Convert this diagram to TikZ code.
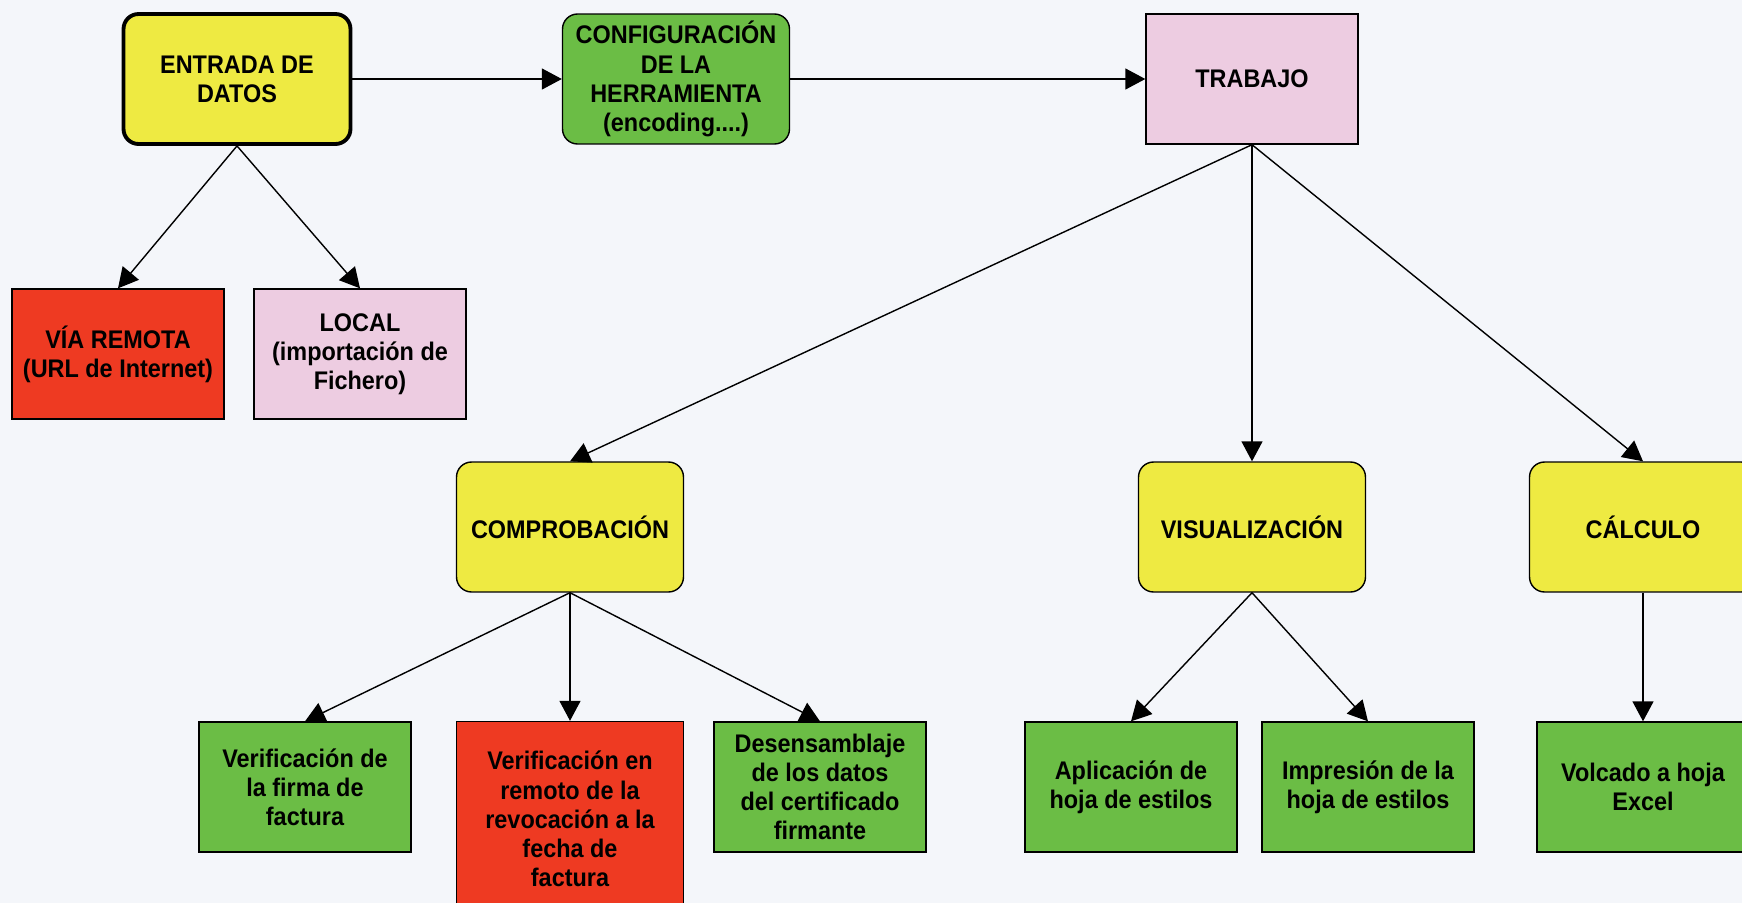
\documentclass[tikz,border=0pt]{standalone}
\usepackage{fontspec}
\setmainfont{Liberation Sans}[FakeStretch=0.92]
\usetikzlibrary{arrows.meta}
\definecolor{bgcol}{RGB}{244,246,250}
\definecolor{boxyellow}{RGB}{238,234,66}
\definecolor{boxgreen}{RGB}{107,189,69}
\definecolor{boxred}{RGB}{238,58,34}
\definecolor{boxpink}{RGB}{237,204,225}
\begin{document}
\begin{tikzpicture}[x=0.02cm,y=-0.02cm,
  box/.style={draw=black,line width=0.8pt,minimum width=4.24cm,minimum height=2.6cm,
    align=center,inner sep=2pt,font=\fontsize{14.5}{16.6}\selectfont\bfseries},
  rbox/.style={box,rounded corners=0.3cm,minimum width=4.54cm},
  link/.style={line width=0.8pt,-{Triangle[length=0.4cm,width=0.42cm]}}]
\fill[bgcol] (0,0) rectangle (1742,903);
\useasboundingbox (0,0) rectangle (1742,903);

% Nodes
\node[rbox,fill=boxyellow,line width=2.2pt] (ent) at (237,79) {ENTRADA DE\\DATOS};
\node[rbox,fill=boxgreen] (conf) at (676,79) {CONFIGURACIÓN\\DE LA\\HERRAMIENTA\\(encoding....)};
\node[box,fill=boxpink] (trab) at (1252,79) {TRABAJO};
\node[box,fill=boxred] (via) at (118,354) {VÍA REMOTA\\(URL de Internet)};
\node[box,fill=boxpink] (loc) at (360,354) {LOCAL\\(importación de\\Fichero)};
\node[rbox,fill=boxyellow] (comp) at (570,527) {COMPROBACIÓN};
\node[rbox,fill=boxyellow] (visu) at (1252,527) {VISUALIZACIÓN};
\node[rbox,fill=boxyellow] (calc) at (1643,527) {CÁLCULO};
\node[box,fill=boxgreen] (firma) at (305,787) {Verificación de\\la firma de\\factura};
\node[box,fill=boxred,minimum width=4.54cm,minimum height=3.9cm] (remo) at (570,819) {Verificación en\\remoto de la\\revocación a la\\fecha de\\factura};
\node[box,fill=boxgreen] (des) at (820,787) {Desensamblaje\\de los datos\\del certificado\\firmante};
\node[box,fill=boxgreen] (apl) at (1131,787) {Aplicación de\\hoja de estilos};
\node[box,fill=boxgreen] (imp) at (1368,787) {Impresión de la\\hoja de estilos};
\node[box,fill=boxgreen] (volc) at (1643,787) {Volcado a hoja\\Excel};

% Edges
\draw[link] (ent) -- (conf);
\draw[link] (conf) -- (trab);
\draw[link] (ent.south) -- (via.north);
\draw[link] (ent.south) -- (loc.north);
\draw[link] (trab.south) -- (comp.north);
\draw[link] (trab.south) -- (visu.north);
\draw[link] (trab.south) -- (calc.north);
\draw[link] (comp.south) -- (firma.north);
\draw[link] (comp.south) -- (remo.north);
\draw[link] (comp.south) -- (des.north);
\draw[link] (visu.south) -- (apl.north);
\draw[link] (visu.south) -- (imp.north);
\draw[link] (calc.south) -- (volc.north);
\end{tikzpicture}
\end{document}
